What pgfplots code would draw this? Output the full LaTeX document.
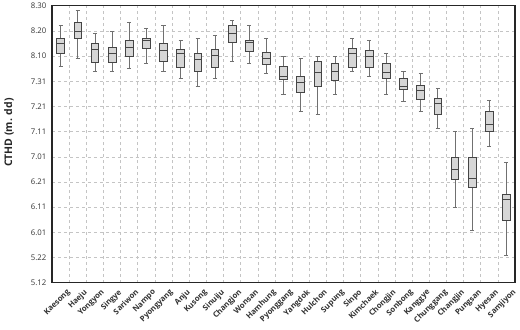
\documentclass[border=0pt]{standalone}
\usepackage{fontspec}
\setmainfont{Open Sans}
\usepackage{pgfplots}
\pgfplotsset{compat=1.18}
\usepgfplotslibrary{statistics}

\definecolor{boxfill}{HTML}{D6D6D6}
\definecolor{boxline}{HTML}{454545}
\definecolor{whisk}{HTML}{707070}
\definecolor{gridc}{HTML}{C4C4C4}

% one prepared box: position, lower whisker, Q1, median, Q3, upper whisker
% (values are positions on the equally spaced date scale 5.12 = 0 ... 8.30 = 11)
\newcommand{\stationbox}[6]{%
  \addplot[boxplot/draw direction=y, boxplot prepared={draw position=#1, lower whisker=#2,
    lower quartile=#3, median=#4, upper quartile=#5, upper whisker=#6}]
    coordinates {};}

\begin{document}
\begin{tikzpicture}
\begin{axis}[
  at={(0,0)}, anchor=south west,
  scale only axis, width=463bp, height=277bp,
  xmin=0.5, xmax=27.5, ymin=0, ymax=11,
  xtick={1,...,27},
  xticklabels={Kaesong,Haeju,Yongyon,Singye,Sariwon,Nampo,Pyongyang,Anju,Kusong,Sinuiju,Changjon,Wonsan,Hamhung,Pyonggang,Yangdok,Hulchon,Supung,Sinpo,Kimchaek,Chongjin,Sonbong,Kanggye,Chunggang,Changjin,Pungsan,Hyesan,Samjiyon},
  minor xtick={1.5,2.5,...,26.5},
  ytick={0,...,11},
  yticklabels={5.12,5.22,6.01,6.11,6.21,7.01,7.11,7.21,7.31,8.10,8.20,8.30},
  major tick length=0pt, minor tick length=0pt,
  xmajorgrids=false, xminorgrids=true, ymajorgrids=true,
  grid style={gridc, dashed, line width=0.5pt},
  minor grid style={gridc, dashed, line width=0.5pt},
  axis line style={black!85, line width=1.1pt},
  y tick label style={font=\fontsize{7.8}{9}\selectfont, text=black!80, inner sep=1pt, xshift=-4.5pt},
  x tick label style={font=\fontsize{7.8}{9}\selectfont\bfseries, text=black!80,
    rotate=45, anchor=north east, inner sep=0.5pt, xshift=0.5pt, yshift=-7.5pt},
  ylabel={CTHD (m. dd)},
  ylabel style={font=\fontsize{10.5}{12}\selectfont\bfseries, text=black!85,
    at={(axis description cs:-0.093,0.542)}, anchor=center},
  boxplot/box extend=0.45,
  boxplot/whisker extend=0.24,
  boxplot/every box/.style={draw=boxline, fill=boxfill, line width=0.7pt},
  boxplot/every whisker/.style={draw=whisk, line width=0.7pt},
  boxplot/every median/.style={draw=boxline, line width=0.9pt},
]
\stationbox{1}{8.59}{9.11}{9.51}{9.69}{10.21}
\stationbox{2}{8.91}{9.69}{9.97}{10.33}{10.80}
\stationbox{3}{8.41}{8.76}{9.27}{9.51}{9.90}
\stationbox{4}{8.41}{8.76}{9.11}{9.35}{10.00}
\stationbox{5}{8.50}{8.99}{9.33}{9.61}{10.33}
\stationbox{6}{8.71}{9.31}{9.61}{9.69}{10.10}
\stationbox{7}{8.41}{8.79}{9.21}{9.51}{10.21}
\stationbox{8}{8.10}{8.54}{9.11}{9.27}{9.61}
\stationbox{9}{7.80}{8.40}{8.87}{9.11}{9.69}
\stationbox{10}{8.10}{8.54}{9.03}{9.27}{9.81}
\stationbox{11}{8.79}{9.53}{9.90}{10.22}{10.41}
\stationbox{12}{8.71}{9.20}{9.53}{9.61}{10.21}
\stationbox{13}{8.32}{8.67}{8.91}{9.15}{9.71}
\stationbox{14}{7.49}{8.06}{8.20}{8.59}{9.00}
\stationbox{15}{6.79}{7.57}{7.97}{8.21}{8.91}
\stationbox{16}{6.69}{7.80}{8.34}{8.80}{9.00}
\stationbox{17}{7.49}{8.04}{8.37}{8.71}{9.00}
\stationbox{18}{8.41}{8.54}{9.11}{9.31}{9.71}
\stationbox{19}{8.20}{8.57}{9.00}{9.23}{9.61}
\stationbox{20}{7.49}{8.10}{8.34}{8.70}{9.11}
\stationbox{21}{7.22}{7.68}{7.80}{8.13}{8.41}
\stationbox{22}{6.79}{7.30}{7.65}{7.85}{8.33}
\stationbox{23}{6.12}{6.69}{7.11}{7.32}{7.70}
\stationbox{24}{2.99}{4.11}{4.50}{4.98}{6.00}
\stationbox{25}{2.09}{3.80}{4.15}{4.98}{6.12}
\stationbox{26}{5.40}{6.02}{6.30}{6.81}{7.23}
\stationbox{27}{1.09}{2.49}{3.31}{3.49}{4.79}
\end{axis}
\pgfresetboundingbox
\useasboundingbox (-52bp,-47.3bp) rectangle (468bp,282.7bp);
\end{tikzpicture}
\end{document}
